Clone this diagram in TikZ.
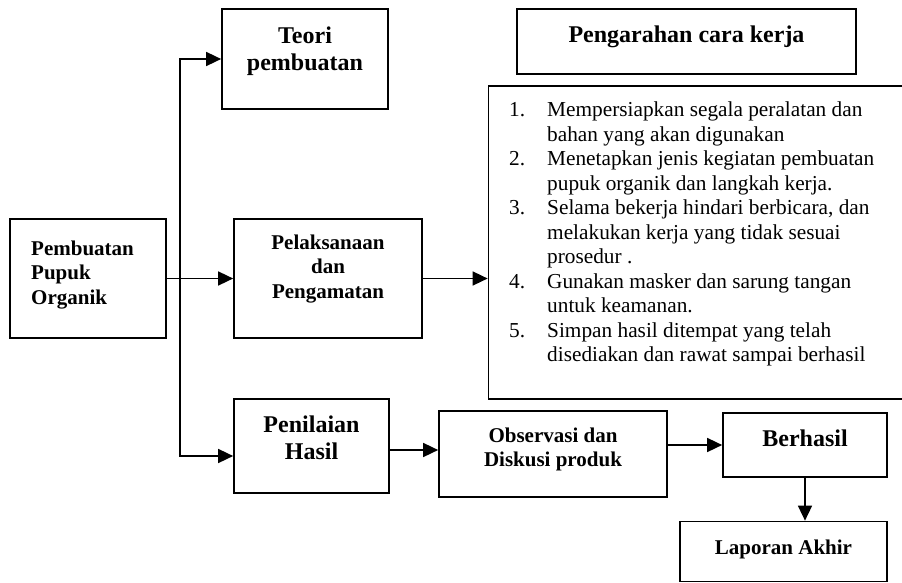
\documentclass[tikz,border=0pt]{standalone}
\usepackage{fontspec}
\setmainfont{Liberation Serif}
\usetikzlibrary{arrows.meta,calc}
\tikzset{
  box/.style={draw, line width=1.7pt, inner sep=0pt, rectangle},
  arr/.style={line width=1.6pt, -{Triangle[length=15pt,width=14pt]}},
  btext/.style={anchor=base, inner sep=0pt, font=\bfseries},
}
\newcommand{\fsA}{\fontsize{21}{24.5}\selectfont}
\newcommand{\fsB}{\fontsize{24}{27.5}\selectfont}
\newcommand{\fsL}{\fontsize{21.3}{24.5}\selectfont}
\begin{document}
\begin{tikzpicture}[x=1pt,y=-1pt]
\useasboundingbox (0,0) rectangle (902,583);
\clip (0,0) rectangle (902,583);
% boxes
\node[box, minimum width=156pt, minimum height=119pt] (left) at (88,278.5) {};
\node[box, minimum width=166pt, minimum height=100pt] (teori) at (305,59) {};
\node[box, minimum width=339pt, minimum height=65pt] (arah) at (686.5,41.5) {};
\node[box, minimum width=430pt, minimum height=313pt] (list) at (703.5,242.5) {};
\node[box, minimum width=188pt, minimum height=119pt] (pel) at (328,278.5) {};
\node[box, minimum width=155pt, minimum height=94pt] (pen) at (311.5,446) {};
\node[box, minimum width=228pt, minimum height=86pt] (obs) at (553,454) {};
\node[box, minimum width=164pt, minimum height=64pt] (ber) at (805,445) {};
\node[box, minimum width=207pt, minimum height=60pt] (lap) at (783.5,551.5) {};
% texts
\node[btext, anchor=base west] (tleft) at (31,255) {\fsA\begin{tabular}[t]{@{}l@{}}Pembuatan\\Pupuk\\Organik\end{tabular}};
\node[btext] (tteori) at (305,43.3) {\fsB\begin{tabular}[t]{@{}c@{}}Teori\\pembuatan\end{tabular}};
\node[btext] (tarah) at (686.5,42.7) {\fsB Pengarahan cara kerja};
\node[btext] (tpel) at (328,249.3) {\fsA\begin{tabular}[t]{@{}c@{}}Pelaksanaan\\dan\\Pengamatan\end{tabular}};
\node[btext] (tpen) at (311.5,432.7) {\fontsize{24}{26.7}\selectfont\begin{tabular}[t]{@{}c@{}}Penilaian\\Hasil\end{tabular}};
\node[btext] (tobs) at (553,442.3) {\fontsize{21}{23.8}\selectfont\begin{tabular}[t]{@{}c@{}}Observasi dan\\Diskusi produk\end{tabular}};
\node[btext] (tber) at (805,446) {\fsB Berhasil};
\node[btext] (tlap) at (783.5,554) {\fsA Laporan Akhir};
\node[anchor=base west, inner sep=0pt] (tlist) at (509,117) {\fsL\begin{tabular}[t]{@{}p{38pt}@{}l@{}}
1. & Mempersiapkan segala peralatan dan\\
   & bahan yang akan digunakan\\
2. & Menetapkan jenis kegiatan pembuatan\\
   & pupuk organik dan langkah kerja.\\
3. & Selama bekerja hindari berbicara, dan\\
   & melakukan kerja yang tidak sesuai\\
   & prosedur .\\
4. & Gunakan masker dan sarung tangan\\
   & untuk keamanan.\\
5. & Simpan hasil ditempat yang telah\\
   & disediakan dan rawat sampai berhasil
\end{tabular}};
% connectors
\coordinate (split) at (180,278.5);
\draw[arr] (left.east) -- (pel.west);
\draw[arr] (split) |- (teori.west);
\draw[arr] (split) |- ([yshift=-10pt]pen.west);
\draw[arr] (pel.east) -- (pel.east -| list.west);
\draw[arr] ([yshift=-4pt]pen.east) -- ([yshift=-4pt]pen.east -| obs.west);
\draw[arr] (ber.west -| obs.east) -- (ber.west);
\draw[arr] (ber.south) -- (ber.south |- lap.north);
\end{tikzpicture}
\end{document}
